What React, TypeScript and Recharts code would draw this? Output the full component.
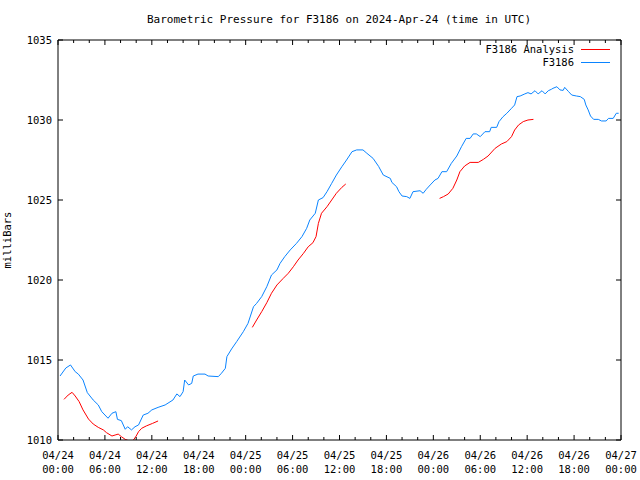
import { LineChart, Line, XAxis, YAxis, ReferenceLine } from "recharts";

// hours since 04/24 00:00 UTC
const stationHours = [
  0.26, 1.0, 1.6, 2.2, 2.6, 3.2, 3.75, 4.5, 5.15, 5.6, 6.4, 6.9, 7.4, 7.6, 8.1, 8.6, 8.9, 9.4, 9.85, 10.3,
  10.9, 11.5, 12.0, 12.8, 13.7, 14.7, 15.2, 15.6, 16.0, 16.2, 16.7, 17.1, 17.3, 17.9, 18.8, 19.2, 20.5, 20.9, 21.4, 21.6,
  22.2, 22.85, 23.7, 24.3, 25.0, 25.4, 26.05, 26.7, 27.3, 28.0, 28.4, 29.0, 29.7, 30.5, 31.2, 31.8, 32.2, 32.9, 33.3, 33.9,
  34.4, 35.0, 35.6, 36.3, 36.9, 37.6, 38.2, 39.0, 39.5, 40.3, 41.0, 41.6, 42.5, 42.7, 43.3, 43.6, 44.0, 44.6, 45.0, 45.4,
  46.3, 46.7, 47.1, 47.6, 48.2, 48.6, 49.1, 49.7, 50.3, 51.0, 51.6, 52.2, 52.7, 53.1, 53.5, 54.0, 54.6, 55.2, 55.4, 56.1,
  56.4, 56.9, 57.4, 58.0, 58.4, 58.7, 59.1, 59.7, 60.1, 60.5, 61.0, 61.4, 61.9, 62.3, 62.7, 63.1, 63.3, 63.8, 64.2, 64.6,
  64.8, 65.3, 65.7, 66.3, 66.8, 67.3, 67.5, 67.8, 68.1, 68.5, 69.1, 69.5, 70.1, 70.4, 71.0, 71.4, 71.7,
];
const stationPressure = [
  1014.0, 1014.5, 1014.69, 1014.27, 1014.12, 1013.75, 1012.96, 1012.5, 1012.19, 1011.77, 1011.36, 1011.67, 1011.77, 1011.29, 1011.21, 1010.67, 1010.83, 1010.63, 1010.83, 1010.94,
  1011.56, 1011.67, 1011.88, 1012.04, 1012.19, 1012.5, 1012.88, 1012.71, 1013.02, 1013.75, 1013.44, 1013.54, 1014.0, 1014.12, 1014.12, 1014.0, 1013.96, 1014.17, 1014.48, 1015.21,
  1015.69, 1016.15, 1016.77, 1017.29, 1018.33, 1018.54, 1018.96, 1019.58, 1020.31, 1020.63, 1021.04, 1021.46, 1021.88, 1022.29, 1022.71, 1023.23, 1023.75, 1024.17, 1025.0, 1025.15,
  1025.52, 1026.04, 1026.56, 1027.08, 1027.5, 1028.02, 1028.13, 1028.13, 1027.92, 1027.6, 1027.1, 1026.56, 1026.35, 1026.1, 1025.83, 1025.52, 1025.25, 1025.21, 1025.1, 1025.52,
  1025.58, 1025.42, 1025.67, 1025.94, 1026.25, 1026.35, 1026.77, 1026.77, 1027.29, 1027.75, 1028.33, 1028.85, 1028.85, 1029.13, 1029.13, 1028.96, 1029.27, 1029.27, 1029.54, 1029.54,
  1029.9, 1030.2, 1030.42, 1030.73, 1030.94, 1031.46, 1031.5, 1031.63, 1031.71, 1031.63, 1031.83, 1031.63, 1031.83, 1031.63, 1031.83, 1031.92, 1031.98, 1032.08, 1031.88, 1031.85,
  1032.04, 1031.77, 1031.56, 1031.5, 1031.46, 1031.29, 1030.94, 1030.63, 1030.25, 1030.04, 1030.04, 1029.94, 1029.94, 1030.1, 1030.1, 1030.42, 1030.42,
];

// analysis runs in three pieces, null = gap
const analysisHours = [
  0.77, 1.3, 1.8, 2.2, 2.7, 3.2, 3.9, 4.5, 5.15, 5.8, 6.2, 6.9, 7.3, 7.7, 8.1, 8.6, 9.0, 9.6, 10.0, 10.3, 10.7, 11.3, 12.1, 12.8,
  18,
  24.85, 25.4, 26.05, 26.7, 27.3, 28.0, 28.8, 29.45, 30.1, 30.7, 31.4, 32.0, 32.6, 33.0, 33.3, 33.7, 34.4, 35.0, 35.6, 36.3, 36.8,
  43,
  48.8, 49.3, 49.9, 50.5, 51.0, 51.4, 52.0, 52.7, 53.75, 54.4, 55.0, 55.9, 56.7, 57.4, 58.0, 58.4, 58.9, 59.5, 60.1, 60.8,
];
const analysisPressure = [
  1012.54, 1012.81, 1012.98, 1012.75, 1012.4, 1011.88, 1011.31, 1011.0, 1010.79, 1010.63, 1010.46, 1010.25, 1010.31, 1010.37, 1010.21, 1010.04, 1009.96, 1009.96, 1010.25, 1010.52, 1010.73, 1010.88, 1011.04, 1011.19,
  null,
  1017.04, 1017.5, 1018.02, 1018.58, 1019.17, 1019.69, 1020.1, 1020.42, 1020.83, 1021.25, 1021.67, 1022.08, 1022.33, 1022.71, 1023.54, 1024.17, 1024.58, 1025.0, 1025.42, 1025.79, 1026.0,
  null,
  1025.1, 1025.21, 1025.375, 1025.73, 1026.25, 1026.77, 1027.125, 1027.35, 1027.35, 1027.54, 1027.75, 1028.23, 1028.5, 1028.65, 1028.96, 1029.375, 1029.69, 1029.9, 1030.0, 1030.04,
];

const hourTicks = [0, 2, 4, 6, 8, 10, 12, 14, 16, 18, 20, 22, 24, 26, 28, 30, 32, 34, 36, 38, 40, 42, 44, 46, 48, 50, 52, 54, 56, 58, 60, 62, 64, 66, 68, 70, 72];
const dayLabels = ["04/24", "04/24", "04/24", "04/24", "04/25", "04/25", "04/25", "04/25", "04/26", "04/26", "04/26", "04/26", "04/27"];
const timeLabels = ["00:00", "06:00", "12:00", "18:00", "00:00", "06:00", "12:00", "18:00", "00:00", "06:00", "12:00", "18:00", "00:00"];
const pressureTicks = [1010, 1015, 1020, 1025, 1030, 1035];

// merge both series into one table keyed by hour; each analysis piece gets its own key
const rows: Record<string, any> = {};
stationHours.forEach((h, i) => {
  rows[String(h)] = { ...(rows[String(h)] || { hour: h }), station: stationPressure[i] };
});
let seg = 0;
analysisHours.forEach((h, i) => {
  const v = analysisPressure[i];
  if (v === null) {
    seg++;
    return;
  }
  rows[String(h)] = { ...(rows[String(h)] || { hour: h }), ["a" + seg]: v };
});
const chartData = Object.values(rows).sort((a: any, b: any) => a.hour - b.hour);
const analysisKeys = Array.from({ length: seg + 1 }, (_, i) => "a" + i);

const FONT = "'DejaVu Sans Mono', monospace";
const RED = "#ff0000";
const BLUE = "#0a84ff";
const TOP = 40;
const BOTTOM = 440;
const LEFT = 58;
const RIGHT = 621;

// bottom tick also draws the mirrored tick on the top border
function HourTick(props: any) {
  const { x, payload } = props;
  const h = Number(payload.value);
  const major = h % 6 === 0;
  const len = major ? 5 : 3;
  const idx = h / 6;
  return (
    <g>
      <line x1={x} y1={BOTTOM} x2={x} y2={BOTTOM - len} stroke="#000" />
      <line x1={x} y1={TOP} x2={x} y2={TOP + len} stroke="#000" />
      {major ? (
        <text x={x} y={459} textAnchor="middle" fontSize={10.5} fontFamily={FONT} fill="#000">
          {dayLabels[idx]}
        </text>
      ) : null}
      {major ? (
        <text x={x} y={473} textAnchor="middle" fontSize={10.5} fontFamily={FONT} fill="#000">
          {timeLabels[idx]}
        </text>
      ) : null}
    </g>
  );
}

function PressureTick(props: any) {
  const { y, payload } = props;
  return (
    <g>
      <line x1={LEFT} y1={y} x2={LEFT + 5} y2={y} stroke="#000" />
      <line x1={RIGHT} y1={y} x2={RIGHT - 5} y2={y} stroke="#000" />
      <text x={52} y={y + 4} textAnchor="end" fontSize={10.5} fontFamily={FONT} fill="#000">
        {payload.value}
      </text>
    </g>
  );
}

export default function App() {
  return (
    <div style={{ position: "absolute", left: 0, top: 0, width: 640, height: 480, background: "#fff" }}>
      <svg width={640} height={480} style={{ position: "absolute", left: 0, top: 0 }}>
        <text x={339} y={23} textAnchor="middle" fontSize={11} fontFamily={FONT} fill="#000">
          Barometric Pressure for F3186 on 2024-Apr-24 (time in UTC)
        </text>
        <text x={11} y={240} textAnchor="middle" fontSize={10.5} fontFamily={FONT} fill="#000" transform="rotate(-90 11 240)">
          milliBars
        </text>
        <text x={574} y={53} textAnchor="end" fontSize={10.5} fontFamily={FONT} fill="#000">F3186 Analysis</text>
        <line x1={581} y1={49.5} x2={610} y2={49.5} stroke={RED} />
        <text x={574} y={66} textAnchor="end" fontSize={10.5} fontFamily={FONT} fill="#000">F3186</text>
        <line x1={581} y1={62.5} x2={610} y2={62.5} stroke={BLUE} />
      </svg>
      <div style={{ position: "absolute", left: 0, top: 0 }}>
        <LineChart data={chartData} width={640} height={480} margin={{ top: TOP, right: 640 - RIGHT, bottom: 0, left: 0 }}>
          <XAxis dataKey="hour" type="number" domain={[0, 72]} ticks={hourTicks} height={480 - BOTTOM}
            tickLine={false} axisLine={{ stroke: "#000" }} tick={HourTick} interval={0} />
          <YAxis type="number" domain={[1010, 1035]} ticks={pressureTicks} width={LEFT}
            tickLine={false} axisLine={{ stroke: "#000" }} tick={PressureTick} interval={0} allowDataOverflow />
          <ReferenceLine y={1035} stroke="#000" />
          <ReferenceLine x={72} stroke="#000" />
          {analysisKeys.map((k) => (
            <Line key={k} dataKey={k} name="F3186 Analysis" type="linear"
              stroke={RED} strokeWidth={1} dot={false} connectNulls isAnimationActive={false} />
          ))}
          <Line dataKey="station" name="F3186" type="linear"
            stroke={BLUE} strokeWidth={1} dot={false} connectNulls isAnimationActive={false} />
        </LineChart>
      </div>
    </div>
  );
}
